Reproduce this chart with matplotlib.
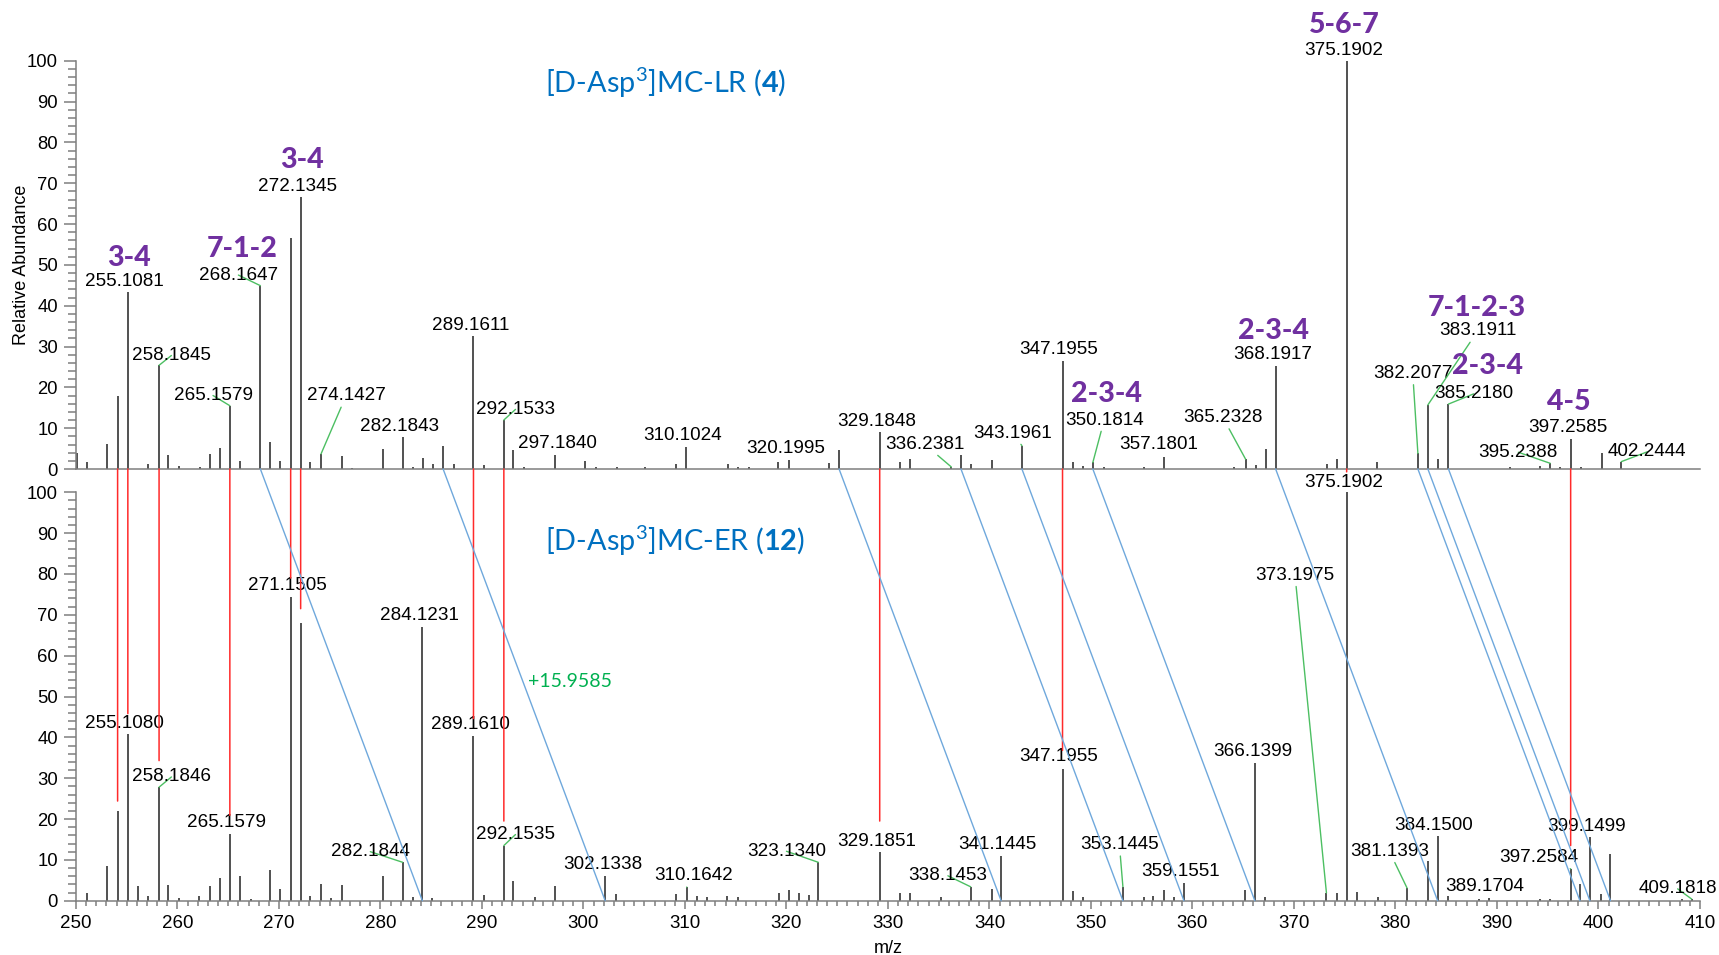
import matplotlib
matplotlib.use("Agg")
import matplotlib.pyplot as plt
from matplotlib.ticker import MultipleLocator
from matplotlib.patches import ConnectionPatch

plt.rcParams['font.family'] = ['Liberation Sans', 'DejaVu Sans']
plt.rcParams['mathtext.fontset'] = 'custom'
plt.rcParams['mathtext.rm'] = 'Lato'
plt.rcParams['mathtext.bf'] = 'Lato:bold'
plt.rcParams['mathtext.it'] = 'Lato:italic'

# ---- top spectrum: [D-Asp3]MC-LR (4)
top_mz = [250.13, 251.1, 253.1, 254.1, 255.1081, 257.1, 258.1845, 259.1, 260.1, 262.2,
          263.2, 264.2, 265.1579, 266.2, 268.1647, 269.1, 270.1, 271.15, 272.1345, 273.1,
          274.1427, 276.2, 277.2, 280.2, 282.1843, 283.2, 284.2, 285.2, 286.17, 287.2,
          289.1611, 290.2, 292.1533, 293.1, 294.1, 297.1840, 300.1, 301.2, 303.3, 306.1,
          309.1, 310.1024, 314.2, 315.2, 316.3, 319.2, 320.1995, 324.2, 325.18, 329.1848,
          331.2, 332.2, 336.2381, 337.19, 338.2, 340.2, 343.1961, 347.1955, 348.2, 349.2,
          350.1814, 351.3, 355.2, 357.1801, 364.1, 365.2328, 366.3, 367.2, 368.1917, 373.25,
          374.2, 375.1902, 378.2, 382.2077, 383.1911, 384.2, 385.2180, 391.3, 394.2, 395.2388,
          396.2, 397.2585, 398.3, 400.3, 402.2444]
top_int = [3.8, 1.8, 6.1, 18.0, 43.3, 1.2, 25.4, 3.4, 0.7, 0.6,
           3.7, 5.2, 15.5, 2.0, 44.9, 6.5, 1.9, 56.5, 66.7, 1.6,
           3.7, 3.2, 0.3, 4.8, 7.8, 0.4, 2.7, 1.2, 5.7, 1.2,
           32.5, 1.1, 12.0, 4.7, 0.4, 3.4, 2.0, 0.6, 0.6, 0.6,
           1.2, 5.5, 1.2, 0.6, 0.6, 1.8, 2.2, 1.4, 4.7, 9.0,
           1.8, 2.4, 0.5, 3.4, 1.2, 2.2, 5.7, 26.4, 1.8, 0.7,
           1.6, 0.6, 0.4, 3.0, 0.6, 2.4, 1.0, 4.9, 25.2, 1.2,
           2.4, 100, 1.6, 3.8, 15.7, 2.4, 15.9, 0.6, 0.7, 1.4,
           0.6, 7.4, 0.6, 3.8, 1.8]

# ---- bottom spectrum: [D-Asp3]MC-ER (12)
bot_mz = [251.1, 253.1, 254.1, 255.1080, 256.1, 257.1, 258.1846, 259.1, 260.1, 262.1,
          263.2, 264.2, 265.1579, 266.2, 267.2, 269.1, 270.1, 271.1505, 272.13, 273.1,
          274.1, 275.1, 276.2, 280.2, 282.1844, 283.2, 284.1231, 285.1, 289.1610, 290.2,
          292.1535, 293.1, 295.2, 297.2, 302.1338, 303.2, 309.1, 310.1642, 311.2, 312.2,
          314.1, 315.2, 319.25, 320.2, 321.2, 322.2, 323.1340, 329.1851, 331.2, 332.2,
          335.2, 338.1453, 340.2, 341.1445, 347.1955, 348.2, 349.2, 353.1445, 355.2, 356.1,
          357.2, 358.2, 359.1551, 365.2, 366.1399, 367.1, 373.1975, 374.2, 375.1902, 376.2,
          378.3, 381.1393, 383.2, 384.1500, 385.2, 388.2, 389.1704, 394.2, 395.2, 397.2584,
          398.17, 399.1499, 400.2, 401.18, 408.2, 409.1818]
bot_int = [1.9, 8.6, 21.9, 40.7, 3.5, 1.1, 27.8, 3.9, 0.7, 1.2,
           3.5, 5.5, 16.4, 6.0, 0.4, 7.4, 2.9, 74.4, 67.9, 1.2,
           4.1, 0.7, 3.9, 6.1, 9.4, 0.8, 67.0, 0.7, 40.4, 1.5,
           13.5, 4.9, 0.8, 3.5, 6.1, 1.6, 1.6, 3.3, 1.1, 0.8,
           1.2, 0.8, 2.0, 2.7, 1.9, 1.5, 9.4, 11.9, 2.0, 2.0,
           0.8, 3.4, 2.9, 11.0, 32.3, 2.3, 0.8, 3.4, 1.0, 1.2,
           2.7, 0.8, 4.3, 2.5, 33.7, 0.8, 1.9, 2.0, 100, 2.2,
           1.0, 3.1, 9.6, 15.8, 1.1, 0.5, 0.6, 0.5, 0.5, 7.8,
           4.1, 15.5, 1.6, 11.4, 0.4, 0.4]

# labelled peaks
top_lab_mz = [255.1081, 258.1845, 265.1579, 268.1647, 272.1345, 274.1427, 282.1843,
              289.1611, 292.1533, 297.1840, 310.1024, 320.1995, 329.1848, 336.2381,
              343.1961, 347.1955, 350.1814, 357.1801, 365.2328, 368.1917, 375.1902,
              382.2077, 383.1911, 385.2180, 395.2388, 397.2585, 402.2444]
bot_lab_mz = [255.1080, 258.1846, 265.1579, 271.1505, 282.1844, 284.1231, 289.1610,
              292.1535, 302.1338, 310.1642, 323.1340, 329.1851, 338.1453, 341.1445,
              347.1955, 353.1445, 359.1551, 366.1399, 373.1975, 375.1902, 381.1393,
              384.1500, 389.1704, 397.2584, 399.1499, 409.1818]

# fragment assignments (top spectrum)
frag_text = ['3-4', '7-1-2', '3-4', '2-3-4', '2-3-4', '5-6-7', '7-1-2-3', '2-3-4', '4-5']

# matching peaks: same m/z (red) and shifted by +15.9585 (blue)
red_mz = [254.1, 255.1081, 258.1845, 265.1579, 271.15, 272.1345, 289.1611, 292.1533,
          329.1848, 347.1955, 375.1902, 397.2585]
red_stop = [24.4, 45.8, 34.3, 20.9, 79.0, 71.5, 44.6, 19.5, 19.5, 36.8, 105.0, 13.5]
blue_top = [268.1647, 286.17, 325.18, 337.19, 343.1961, 350.1814, 368.1917, 382.2077,
            383.1911, 385.2180]
blue_bot = [284.1231, 302.1338, 341.1445, 353.1445, 359.1551, 366.1399, 384.1500, 398.17,
            399.1499, 401.18]

# label layout (text centre in data units, leader line flag)
top_lab_pos = [(254.8, 46.0), (259.4, 27.8), (263.5, 18.0), (266.0, 47.5), (271.85, 69.3),
               (276.6, 17.9), (281.9, 10.4), (288.9, 35.2), (293.3, 14.6), (297.4, 6.3),
               (309.8, 8.1), (319.9, 5.0), (328.9, 11.6), (333.6, 6.1), (342.3, 8.8),
               (346.85, 29.2), (351.3, 12.0), (356.7, 5.9), (363.0, 12.6), (367.9, 28.1),
               (374.9, 102.5), (381.7, 23.4), (388.1, 33.8), (387.7, 18.4), (392.1, 4.1),
               (397.0, 10.2), (404.8, 4.2)]
top_leader = [0, 1, 1, 1, 0, 1, 0, 0, 1, 0, 0, 0, 0, 1, 1, 0, 1, 0, 1, 0, 0, 1, 1, 1, 1, 0, 1]
bot_lab_pos = [(254.8, 43.3), (259.4, 30.3), (264.8, 19.2), (270.8, 77.1), (279.0, 12.0),
               (283.8, 69.9), (288.9, 43.1), (293.3, 16.2), (301.9, 8.8), (310.8, 6.1),
               (320.0, 12.1), (328.9, 14.5), (335.9, 6.1), (340.8, 13.7), (346.85, 35.2),
               (352.8, 13.7), (358.8, 7.2), (365.9, 36.5), (370.1, 79.7), (374.9, 102.5),
               (379.4, 12.1), (383.8, 18.4), (388.8, 3.4), (394.1, 10.6), (398.8, 18.2),
               (407.8, 2.9)]
bot_leader = [0, 1, 0, 0, 1, 0, 0, 1, 0, 1, 1, 0, 1, 0, 0, 1, 0, 0, 1, 0, 1, 0, 0, 1, 0, 1]
frag_pos = [(255.2, 51.7), (266.35, 53.8), (272.3, 75.6), (351.5, 18.3), (368.0, 33.8),
            (375.0, 108.8), (388.0, 39.4), (389.1, 25.3), (397.1, 16.5)]

PEAK = '#333333'
AXC = '#7f7f7f'
GREEN = '#4cbf62'
PURPLE = '#7030a0'
BLUE_T = '#0070c0'
FS = 13.6

fig = plt.figure(figsize=(17.19, 9.55), dpi=100)
ax_top = fig.add_axes([0.04421, 0.50890, 0.94473, 0.42754])
ax_bot = fig.add_axes([0.04421, 0.05686, 0.94473, 0.42764])

for ax in (ax_top, ax_bot):
    ax.set_xlim(250, 410)
    ax.set_ylim(0, 100)
    for s in ('top', 'right'):
        ax.spines[s].set_visible(False)
    for s in ('left', 'bottom'):
        ax.spines[s].set_color(AXC)
        ax.spines[s].set_linewidth(1.1)
    ax.yaxis.set_major_locator(MultipleLocator(10))
    ax.yaxis.set_minor_locator(MultipleLocator(2))
    ax.tick_params(axis='y', which='major', length=9, width=1.1, color=AXC,
                   labelsize=13.3, pad=4)
    ax.tick_params(axis='y', which='minor', length=5.5, width=1.1, color=AXC)

ax_top.tick_params(axis='x', which='both', bottom=False, labelbottom=False)
ax_bot.xaxis.set_major_locator(MultipleLocator(10))
ax_bot.xaxis.set_minor_locator(MultipleLocator(1))
ax_bot.tick_params(axis='x', which='major', length=6, width=1.1, color=AXC,
                   labelsize=13.5, pad=4)
ax_bot.tick_params(axis='x', which='minor', length=3.5, width=1.1, color=AXC)

ax_top.vlines(top_mz, 0, top_int, color=PEAK, lw=1.2)
ax_bot.vlines(bot_mz, 0, bot_int, color=PEAK, lw=1.2)


def put_labels(ax, mzs, ints, lab_mz, lab_pos, leaders):
    lookup = dict(zip(mzs, ints))
    for mz, (lx, ly), led in zip(lab_mz, lab_pos, leaders):
        arrow = None
        if led:
            arrow = dict(arrowstyle='-', color=GREEN, lw=1.0, shrinkA=0, shrinkB=0)
        ax.annotate(f'{mz:.4f}', xy=(mz, lookup[mz]), xytext=(lx, ly),
                    ha='center', va='center', fontsize=FS, color='black',
                    arrowprops=arrow, annotation_clip=False, zorder=3)


put_labels(ax_top, top_mz, top_int, top_lab_mz, top_lab_pos, top_leader)
put_labels(ax_bot, bot_mz, bot_int, bot_lab_mz, bot_lab_pos, bot_leader)

for t, (fx, fy) in zip(frag_text, frag_pos):
    ax_top.text(fx, fy, t, ha='center', va='center', fontsize=20.5, color=PURPLE,
                family='Lato', fontweight=900)

ax_top.text(296.2, 94.5, r'[D-Asp$^{3}$]MC-LR ($\mathbf{4}$)', ha='left', va='center',
            fontsize=20.8, color=BLUE_T, family='Lato')
ax_bot.text(296.2, 88.0, r'[D-Asp$^{3}$]MC-ER ($\mathbf{12}$)', ha='left', va='center',
            fontsize=20.8, color=BLUE_T, family='Lato')
ax_bot.text(294.5, 53.6, '+15.9585', ha='left', va='center', fontsize=14,
            color='#00b050', family='Lato')

# connecting lines between the two spectra
for mz, stop in zip(red_mz, red_stop):
    con = ConnectionPatch(xyA=(mz, 0), coordsA=ax_top.transData,
                          xyB=(mz, stop), coordsB=ax_bot.transData,
                          color='#ff2a2a', lw=1.1, zorder=5)
    fig.add_artist(con)
for a, b in zip(blue_top, blue_bot):
    con = ConnectionPatch(xyA=(a, 0), coordsA=ax_top.transData,
                          xyB=(b, 0), coordsB=ax_bot.transData,
                          color='#6fa8dc', lw=1.0, zorder=5)
    fig.add_artist(con)

ax_top.set_ylabel('Relative Abundance', fontsize=13)
ax_top.yaxis.set_label_coords(-0.0284, 0.5)
ax_bot.set_xlabel('m/z', fontsize=13)
ax_bot.xaxis.set_label_coords(0.5, -0.097)

fig.savefig('out.png', dpi=100)
